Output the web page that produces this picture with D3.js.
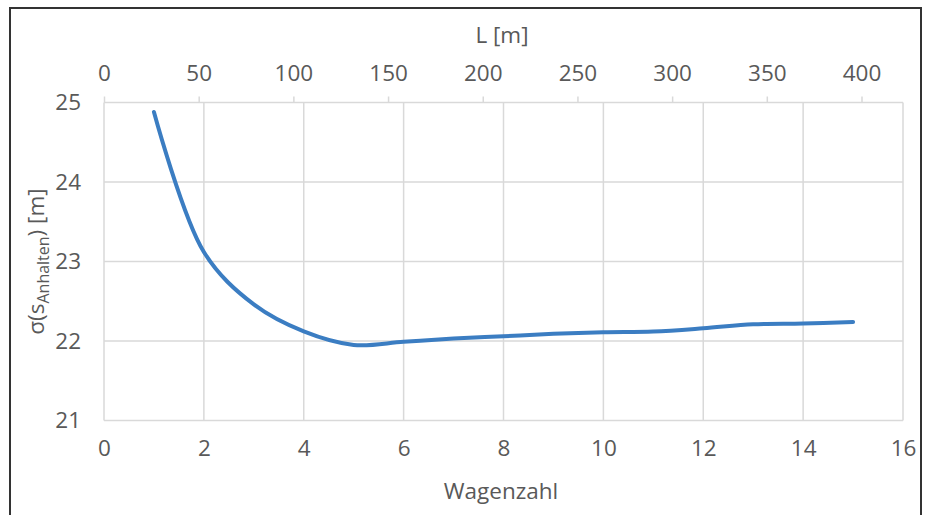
<!DOCTYPE html>
<html><head><meta charset="utf-8">
<script src="https://cdn.jsdelivr.net/npm/d3@7"></script>
<style>
html,body{margin:0;padding:0;background:#fff;}
svg text{font-family:"Open Sans",sans-serif;fill:#595959;}
</style></head>
<body>
<svg id="c" width="926" height="515"></svg>
<script>
const wagenzahl = [1,2,3,4,5,6,7,8,9,10,11,12,13,14,15];
const sigma = [24.88,23.12,22.46,22.12,21.95,21.99,22.03,22.06,22.09,22.11,22.12,22.16,22.21,22.22,22.24];
const xTicks = [0,2,4,6,8,10,12,14,16];
const yTicks = [21,22,23,24,25];
const lTicks = [0,50,100,150,200,250,300,350,400];

const svg = d3.select("#c");
const L = 104, R = 903, T = 102.5, B = 420.5;
const FS = 22.5;
const x = d3.scaleLinear().domain([0,16]).range([L,R]);
const y = d3.scaleLinear().domain([21,25]).range([B,T]);
const xTop = d3.scaleLinear().domain([0,400]).range([104,861.5]);

// frame
svg.append("rect").attr("x",10).attr("y",8).attr("width",911).attr("height",520)
  .attr("fill","none").attr("stroke","#333").attr("stroke-width",2);

// grid
const g = svg.append("g");
g.selectAll(".vg").data(xTicks).join("line")
  .attr("x1",d=>x(d)).attr("x2",d=>x(d)).attr("y1",T).attr("y2",B)
  .attr("stroke","#d9d9d9").attr("stroke-width",1.5);
g.selectAll(".hg").data(yTicks).join("line")
  .attr("y1",d=>y(d)).attr("y2",d=>y(d)).attr("x1",L).attr("x2",R)
  .attr("stroke","#d9d9d9").attr("stroke-width",1.5);

// top axis
const ta = svg.append("g").attr("transform",`translate(0,${T})`)
  .call(d3.axisTop(xTop).tickValues(lTicks).tickSize(6).tickPadding(16).tickFormat(d3.format("d")));
ta.select(".domain").remove();
ta.selectAll("line").attr("stroke","#d9d9d9").attr("stroke-width",1.5);
ta.selectAll("text").attr("font-size",FS).style("fill","#595959").attr("font-family","Open Sans");

// bottom axis
const ba = svg.append("g").attr("transform",`translate(0,${B})`)
  .call(d3.axisBottom(x).tickValues(xTicks).tickSize(0).tickPadding(20).tickFormat(d3.format("d")));
ba.select(".domain").remove();
ba.selectAll("text").attr("font-size",FS).style("fill","#595959").attr("font-family","Open Sans");

// left axis
const la = svg.append("g").attr("transform",`translate(${L},0)`)
  .call(d3.axisLeft(y).tickValues(yTicks).tickSize(0).tickPadding(23).tickFormat(d3.format("d")));
la.select(".domain").remove();
la.selectAll("text").attr("font-size",FS).style("fill","#595959").attr("font-family","Open Sans");

// titles
svg.append("text").attr("x",502).attr("y",43).attr("text-anchor","middle")
  .attr("font-size",FS).text("L [m]");
svg.append("text").attr("x",501).attr("y",499).attr("text-anchor","middle")
  .attr("font-size",FS).text("Wagenzahl");
const yt = svg.append("text").attr("transform",`translate(44,${(T+B)/2}) rotate(-90)`)
  .attr("text-anchor","middle").attr("font-size",FS);
yt.append("tspan").text("σ(s");
yt.append("tspan").attr("font-size",16).attr("dy",5).text("Anhalten");
yt.append("tspan").attr("dy",-5).text(") [m]");

// line
const pts = wagenzahl.map((w,i)=>[w,sigma[i]]);
svg.append("path").datum(pts)
  .attr("fill","none").attr("stroke","#3b7dc2").attr("stroke-width",4)
  .attr("stroke-linecap","round").attr("stroke-linejoin","round")
  .attr("d",d3.line().x(d=>x(d[0])).y(d=>y(d[1])).curve(d3.curveCatmullRom.alpha(0.5)));
</script>
</body></html>
